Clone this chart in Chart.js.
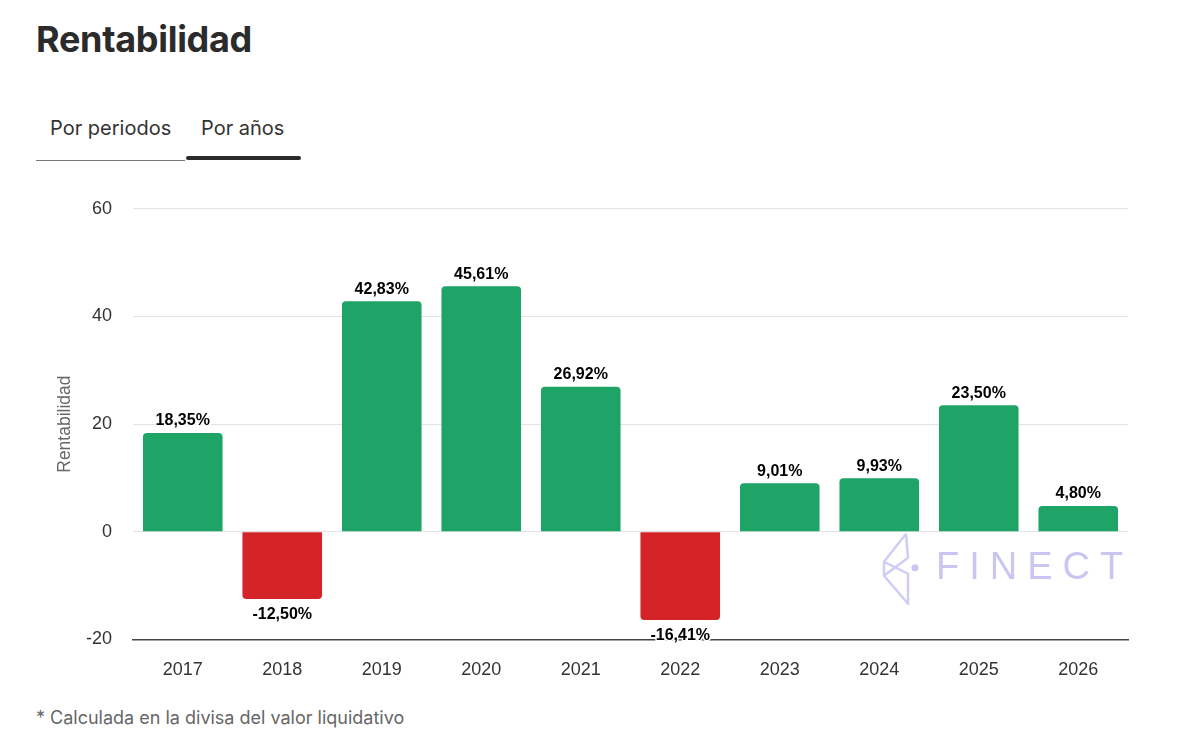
<!DOCTYPE html>
<html lang="es">
<head>
    <meta charset="UTF-8">
    <title>Rentabilidad</title>
    <style>
        body {
            margin: 0;
            background: #fff;
            font-family: Inter, "Noto Sans", sans-serif;
            width: 1200px;
            height: 745px;
            position: relative;
            overflow: hidden;
        }

        h1 {
            position: absolute;
            left: 36px;
            top: 17px;
            margin: 0;
            font-size: 36px;
            font-weight: 700;
            color: #2b2b2b;
            letter-spacing: -0.3px;
        }

        .tabs {
            position: absolute;
            left: 36px;
            top: 114px;
            height: 46px;
            border-bottom: 1.5px solid #777;
            width: 149px;
        }

        .tab {
            position: absolute;
            top: 2px;
            font-size: 20px;
            color: #333;
            white-space: nowrap;
        }

        .tab-active-bar {
            position: absolute;
            left: 186px;
            top: 156px;
            width: 115px;
            height: 4px;
            border-radius: 2px;
            background: #2b2b2b;
        }

        .chart-box {
            position: absolute;
            left: 55px;
            top: 177px;
            width: 1083px;
            height: 524px;
        }

        .note {
            position: absolute;
            left: 36px;
            top: 707px;
            font-size: 18px;
            color: #666;
        }
    </style>
</head>
<body>
    <h1>Rentabilidad</h1>
    <div class="tabs">
        <span class="tab" style="left:14px">Por periodos</span>
        <span class="tab" style="left:165px">Por años</span>
    </div>
    <div class="tab-active-bar"></div>

    <div class="chart-box">
        <canvas id="rentChart"></canvas>
    </div>

    <div class="note">* Calculada en la divisa del valor liquidativo</div>

    <script src="https://cdn.jsdelivr.net/npm/chart.js@4.4.1/dist/chart.umd.min.js"></script>
    <script>
    // datos por año
    const years = ['2017', '2018', '2019', '2020', '2021', '2022', '2023', '2024', '2025', '2026'];
    const returns = [18.35, -12.50, 42.83, 45.61, 26.92, -16.41, 9.01, 9.93, 23.50, 4.80];
    const yTicks = [-20, 0, 20, 40, 60];

    const GREEN = '#1fa467';
    const RED = '#d42428';
    const FONT = '"Liberation Sans", Arial, sans-serif';

    const fmt = v => v.toFixed(2).replace('.', ',') + '%';

    // etiquetas encima / debajo de cada barra
    const barLabels = {
        id: 'barLabels',
        afterDatasetsDraw(chart) {
            const ctx = chart.ctx;
            const meta = chart.getDatasetMeta(0);
            ctx.save();
            ctx.font = 'bold 16px ' + FONT;
            ctx.textAlign = 'center';
            ctx.lineJoin = 'round';
            meta.data.forEach((bar, i) => {
                const v = returns[i];
                const txt = fmt(v);
                let y;
                if (v >= 0) {
                    ctx.textBaseline = 'bottom';
                    y = bar.y - 4;
                } else {
                    ctx.textBaseline = 'top';
                    y = bar.y + 8;
                }
                ctx.strokeStyle = '#fff';
                ctx.lineWidth = 3;
                ctx.strokeText(txt, bar.x, y);
                ctx.fillStyle = '#000';
                ctx.fillText(txt, bar.x, y);
            });
            ctx.restore();
        }
    };

    // marca de agua
    const watermark = {
        id: 'watermark',
        afterDatasetsDraw(chart) {
            const ctx = chart.ctx;
            const a = chart.chartArea;
            const x0 = a.right - 246;
            const y0 = chart.scales.y.getPixelForValue(0);
            ctx.save();
            ctx.strokeStyle = '#cfcdf3';
            ctx.fillStyle = '#c9c7f1';
            ctx.lineWidth = 2.5;
            ctx.lineJoin = 'round';
            ctx.beginPath();
            ctx.moveTo(x0 + 24, y0 + 2);
            ctx.lineTo(x0 + 2, y0 + 30);
            ctx.lineTo(x0 + 2, y0 + 44);
            ctx.lineTo(x0 + 26, y0 + 72);
            ctx.lineTo(x0 + 26, y0 + 42);
            ctx.lineTo(x0 + 2, y0 + 30);
            ctx.moveTo(x0 + 24, y0 + 2);
            ctx.lineTo(x0 + 26, y0 + 26);
            ctx.lineTo(x0 + 2, y0 + 44);
            ctx.stroke();
            ctx.beginPath();
            ctx.arc(x0 + 33, y0 + 36, 3.5, 0, Math.PI * 2);
            ctx.fill();
            ctx.font = '38px ' + FONT;
            ctx.textBaseline = 'middle';
            ctx.textAlign = 'left';
            let x = x0 + 54;
            for (const ch of 'FINECT') {
                ctx.fillText(ch, x, y0 + 37);
                x += ctx.measureText(ch).width + 10;
            }
            ctx.restore();
        }
    };

    new Chart(document.getElementById('rentChart'), {
        type: 'bar',
        data: {
            labels: years,
            datasets: [{
                data: returns,
                backgroundColor: returns.map(v => v >= 0 ? GREEN : RED),
                borderRadius: 4,
                borderSkipped: 'start',
                barPercentage: 0.8,
                categoryPercentage: 1
            }]
        },
        options: {
            responsive: true,
            maintainAspectRatio: false,
            animation: false,
            layout: { padding: { top: 0, right: 10 } },
            plugins: {
                legend: { display: false },
                tooltip: { enabled: false }
            },
            scales: {
                x: {
                    grid: { display: false, drawTicks: false },
                    border: { display: true, color: '#444', width: 1.5 },
                    ticks: {
                        color: '#333',
                        padding: 20,
                        font: { family: FONT, size: 18 }
                    }
                },
                y: {
                    min: yTicks[0],
                    max: yTicks[yTicks.length - 1],
                    afterBuildTicks: axis => { axis.ticks = yTicks.map(v => ({ value: v })); },
                    afterFit: axis => { axis.width = 78; },
                    grid: { color: '#e3e3e3', drawTicks: false },
                    border: { display: false },
                    ticks: {
                        color: '#333',
                        padding: 21,
                        font: { family: FONT, size: 18 }
                    },
                    title: {
                        display: true,
                        text: 'Rentabilidad',
                        color: '#666',
                        padding: { top: 0, bottom: 0 },
                        font: { family: FONT, size: 17.5 }
                    }
                }
            }
        },
        plugins: [watermark, barLabels]
    });
    </script>
</body>
</html>
